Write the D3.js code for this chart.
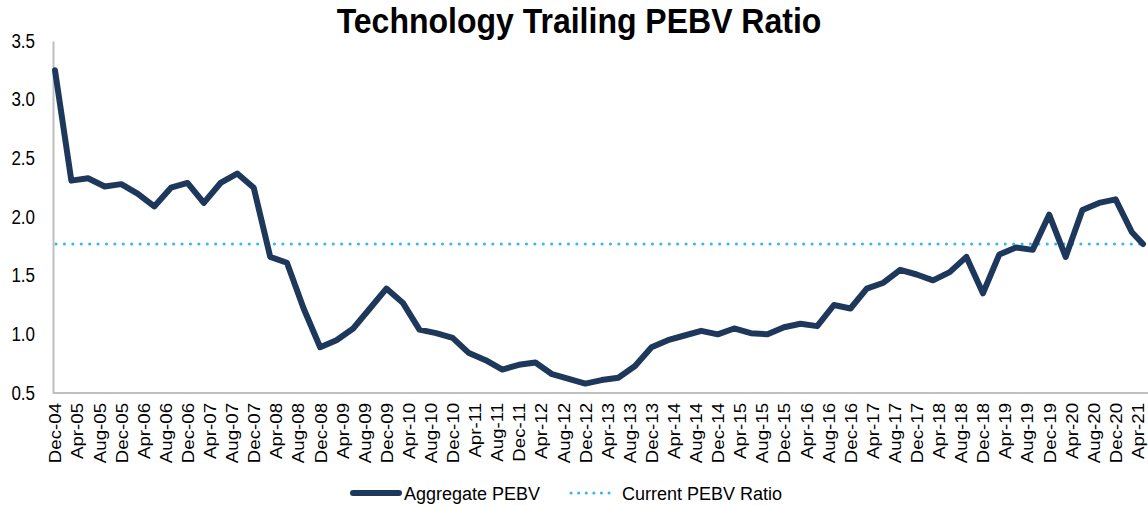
<!DOCTYPE html>
<html>
<head>
<meta charset="utf-8">
<script src="https://cdn.jsdelivr.net/npm/d3@7"></script>
<style>
  body { margin: 0; background: #fff; }
  svg { font-family: "Liberation Sans", Arial, sans-serif; }
</style>
</head>
<body>
<svg id="chart" width="1148" height="506"></svg>
<script>
// quarterly observations (last one is the latest reading)
const dates = [
  "Dec-04",
  "Mar-05", "Jun-05", "Sep-05", "Dec-05",
  "Mar-06", "Jun-06", "Sep-06", "Dec-06",
  "Mar-07", "Jun-07", "Sep-07", "Dec-07",
  "Mar-08", "Jun-08", "Sep-08", "Dec-08",
  "Mar-09", "Jun-09", "Sep-09", "Dec-09",
  "Mar-10", "Jun-10", "Sep-10", "Dec-10",
  "Mar-11", "Jun-11", "Sep-11", "Dec-11",
  "Mar-12", "Jun-12", "Sep-12", "Dec-12",
  "Mar-13", "Jun-13", "Sep-13", "Dec-13",
  "Mar-14", "Jun-14", "Sep-14", "Dec-14",
  "Mar-15", "Jun-15", "Sep-15", "Dec-15",
  "Mar-16", "Jun-16", "Sep-16", "Dec-16",
  "Mar-17", "Jun-17", "Sep-17", "Dec-17",
  "Mar-18", "Jun-18", "Sep-18", "Dec-18",
  "Mar-19", "Jun-19", "Sep-19", "Dec-19",
  "Mar-20", "Jun-20", "Sep-20", "Dec-20",
  "Mar-21", "May-21"
];

const pebv = [
  3.25,
  2.31, 2.33, 2.26, 2.28,
  2.20, 2.09, 2.25, 2.29,
  2.12, 2.29, 2.37, 2.25,
  1.66, 1.61, 1.22, 0.89,
  0.95, 1.05, 1.22, 1.39,
  1.27, 1.04, 1.01, 0.97,
  0.84, 0.78, 0.70, 0.74,
  0.76, 0.66, 0.62, 0.58,
  0.61, 0.63, 0.73, 0.89,
  0.95, 0.99, 1.03, 1.00,
  1.05, 1.01, 1.00, 1.06,
  1.09, 1.07, 1.25, 1.22,
  1.39, 1.44, 1.55, 1.51,
  1.46, 1.53, 1.66, 1.35,
  1.68, 1.74, 1.72, 2.02,
  1.66, 2.06, 2.12, 2.15,
  1.87, 1.77
];

const currentPebv = 1.77;

const tickLabels = [
  "Dec-04", "Apr-05", "Aug-05", "Dec-05", "Apr-06", "Aug-06", "Dec-06",
  "Apr-07", "Aug-07", "Dec-07", "Apr-08", "Aug-08", "Dec-08",
  "Apr-09", "Aug-09", "Dec-09", "Apr-10", "Aug-10", "Dec-10",
  "Apr-11", "Aug-11", "Dec-11", "Apr-12", "Aug-12", "Dec-12",
  "Apr-13", "Aug-13", "Dec-13", "Apr-14", "Aug-14", "Dec-14",
  "Apr-15", "Aug-15", "Dec-15", "Apr-16", "Aug-16", "Dec-16",
  "Apr-17", "Aug-17", "Dec-17", "Apr-18", "Aug-18", "Dec-18",
  "Apr-19", "Aug-19", "Dec-19", "Apr-20", "Aug-20", "Dec-20", "Apr-21"
];

const yTicks = [0.5, 1.0, 1.5, 2.0, 2.5, 3.0, 3.5];

const parseMonth = d3.timeParse("%b-%y");
const data = dates.map((d, i) => ({ date: parseMonth(d), value: pebv[i] }));

const svg = d3.select("#chart");

const x = d3.scaleTime()
  .domain([parseMonth("Dec-04"), parseMonth("May-21")])
  .range([55, 1143]);

const y = d3.scaleLinear()
  .domain([0.5, 3.5])
  .range([393, 41]);

// title
svg.append("text")
  .attr("transform", "translate(579,33) scale(1,1.08)")
  .attr("text-anchor", "middle")
  .attr("font-size", "32px")
  .attr("font-weight", "bold")
  .attr("fill", "#000")
  .text("Technology Trailing PEBV Ratio");

// y axis
const yAxis = svg.append("g")
  .attr("transform", "translate(53,0)")
  .call(d3.axisLeft(y).tickValues(yTicks).tickFormat(d3.format(".1f")).tickSize(0).tickPadding(18));
yAxis.select(".domain").attr("stroke", "#bfbfbf").attr("stroke-width", 2);
yAxis.selectAll("text")
  .attr("font-size", "17px")
  .attr("fill", "#000")
  .attr("font-family", "Liberation Sans, Arial, sans-serif")
  .attr("transform", "scale(1,1.15)");

// x axis
const xAxis = svg.append("g")
  .attr("transform", "translate(0,393)")
  .call(d3.axisBottom(x)
    .tickValues(tickLabels.map(parseMonth))
    .tickFormat(d3.timeFormat("%b-%y"))
    .tickSize(0));
xAxis.select(".domain")
  .attr("d", "M53,0H1148")
  .attr("stroke", "#bfbfbf").attr("stroke-width", 2);
xAxis.selectAll("text")
  .attr("font-size", "17px")
  .attr("fill", "#000")
  .attr("font-family", "Liberation Sans, Arial, sans-serif")
  .attr("text-anchor", "end")
  .attr("transform", "rotate(-90) scale(1.1,1)")
  .attr("x", -9)
  .attr("y", 0)
  .attr("dy", "0.35em");

// current ratio reference line
svg.append("line")
  .attr("x1", 56)
  .attr("x2", 1146)
  .attr("y1", y(currentPebv))
  .attr("y2", y(currentPebv))
  .attr("stroke", "#37b8ee")
  .attr("stroke-width", 3)
  .attr("stroke-linecap", "round")
  .attr("stroke-dasharray", "0.1 8.3");

// aggregate line
const line = d3.line()
  .x(d => x(d.date))
  .y(d => y(d.value));

svg.append("path")
  .datum(data)
  .attr("fill", "none")
  .attr("stroke", "#1e385c")
  .attr("stroke-width", 6)
  .attr("stroke-linejoin", "round")
  .attr("stroke-linecap", "round")
  .attr("d", line);

// legend
const legend = svg.append("g");
legend.append("line")
  .attr("x1", 353).attr("x2", 399)
  .attr("y1", 493).attr("y2", 493)
  .attr("stroke", "#1e385c")
  .attr("stroke-width", 6)
  .attr("stroke-linecap", "round");
legend.append("text")
  .attr("x", 404).attr("y", 500)
  .attr("font-size", "18px")
  .text("Aggregate PEBV");
legend.append("line")
  .attr("x1", 571).attr("x2", 616)
  .attr("y1", 493).attr("y2", 493)
  .attr("stroke", "#37b8ee")
  .attr("stroke-width", 3)
  .attr("stroke-linecap", "round")
  .attr("stroke-dasharray", "0.1 7.5");
legend.append("text")
  .attr("x", 622).attr("y", 500)
  .attr("font-size", "18px")
  .text("Current PEBV Ratio");
</script>
</body>
</html>
